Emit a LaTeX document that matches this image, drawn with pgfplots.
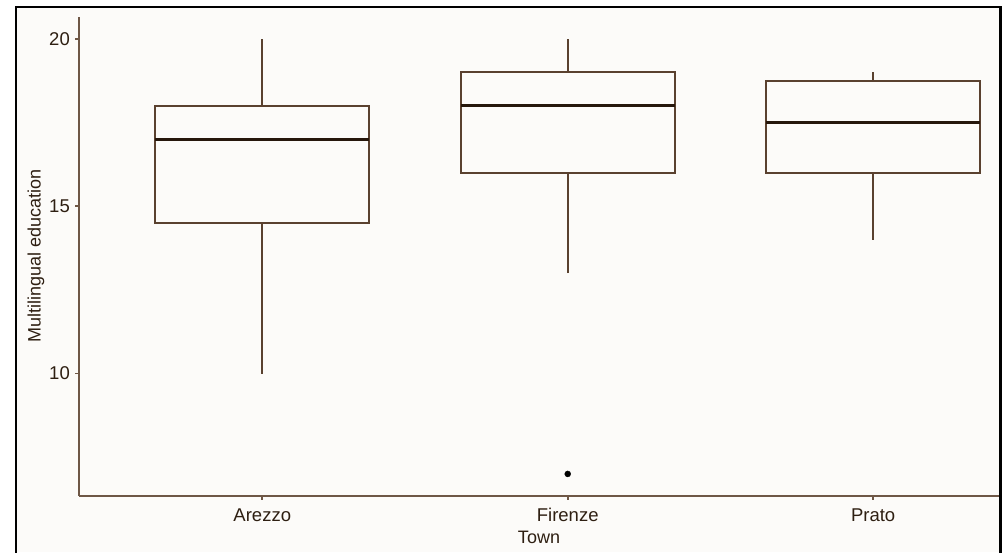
\documentclass[border=0pt]{standalone}
\usepackage{pgfplots}
\pgfplotsset{compat=1.18}
\usepackage{fontspec}
\setmainfont{Liberation Sans}
\definecolor{bg}{HTML}{FCFBF9}
\definecolor{axcol}{HTML}{6E5746}
\definecolor{boxcol}{HTML}{5A412F}
\definecolor{medcol}{HTML}{26170C}
\definecolor{txtcol}{HTML}{2E1F12}
\begin{document}
\begin{tikzpicture}
\useasboundingbox (0pt,0pt) rectangle (1008pt,552pt);
\fill[white] (0pt,0pt) rectangle (1008pt,552pt);
\fill[bg] (15.5pt,0pt) rectangle (1000.5pt,545pt);
\draw[black, line width=2.2pt] (16pt,-3pt) -- (16pt,545pt) -- (1000.5pt,545pt) -- (1000.5pt,-3pt);
\begin{axis}[at={(79pt,56.3pt)}, anchor=south west, scale only axis,
  width=920pt, height=478.7pt,
  xmin=0.4, xmax=3.412, ymin=6.35, ymax=20.65,
  axis x line=bottom, axis y line=left,
  axis line style={axcol, line width=1.6pt, -},
  xtick={1,2,3}, xticklabels={Arezzo,Firenze,Prato},
  ytick={10,15,20},
  tick style={axcol, line width=1.6pt}, tick align=outside, major tick length=4pt,
  /pgf/number format/assume math mode=true,
  ticklabel style={font=\fontsize{18.5}{21}\selectfont, text=txtcol, inner sep=0pt},
  xticklabel style={anchor=base, yshift=-22pt},
  yticklabel style={anchor=east, xshift=-5pt},
  xlabel={Town}, ylabel={Multilingual education},
  label style={font=\fontsize{18}{21}\selectfont, text=txtcol, inner sep=0pt},
  xlabel style={at={(axis description cs:0.5,0)}, anchor=base, yshift=-47.3pt},
  ylabel style={at={(axis description cs:0,0.5)}, anchor=center, yshift=43pt},
  clip=false,
]
% Arezzo: whiskers 10-20, box 14.5-18, median 17
\addplot[boxcol, line width=1.8pt] coordinates {(1,10) (1,14.5)};
\addplot[boxcol, line width=1.8pt] coordinates {(1,18) (1,20)};
\addplot[boxcol, line width=1.8pt] coordinates {(0.65,14.5) (1.35,14.5) (1.35,18) (0.65,18)} --cycle;
\addplot[medcol, line width=3pt] coordinates {(0.65,17) (1.35,17)};
% Firenze: whiskers 13-20, box 16-19, median 18, outlier 7
\addplot[boxcol, line width=1.8pt] coordinates {(2,13) (2,16)};
\addplot[boxcol, line width=1.8pt] coordinates {(2,19) (2,20)};
\addplot[boxcol, line width=1.8pt] coordinates {(1.65,16) (2.35,16) (2.35,19) (1.65,19)} --cycle;
\addplot[medcol, line width=3pt] coordinates {(1.65,18) (2.35,18)};
\addplot[only marks, mark=*, mark size=3pt, black] coordinates {(2,7)};
% Prato: whiskers 14-19, box 16-18.75, median 17.5
\addplot[boxcol, line width=1.8pt] coordinates {(3,14) (3,16)};
\addplot[boxcol, line width=1.8pt] coordinates {(3,18.75) (3,19)};
\addplot[boxcol, line width=1.8pt] coordinates {(2.65,16) (3.35,16) (3.35,18.75) (2.65,18.75)} --cycle;
\addplot[medcol, line width=3pt] coordinates {(2.65,17.5) (3.35,17.5)};
\end{axis}
\end{tikzpicture}
\end{document}
